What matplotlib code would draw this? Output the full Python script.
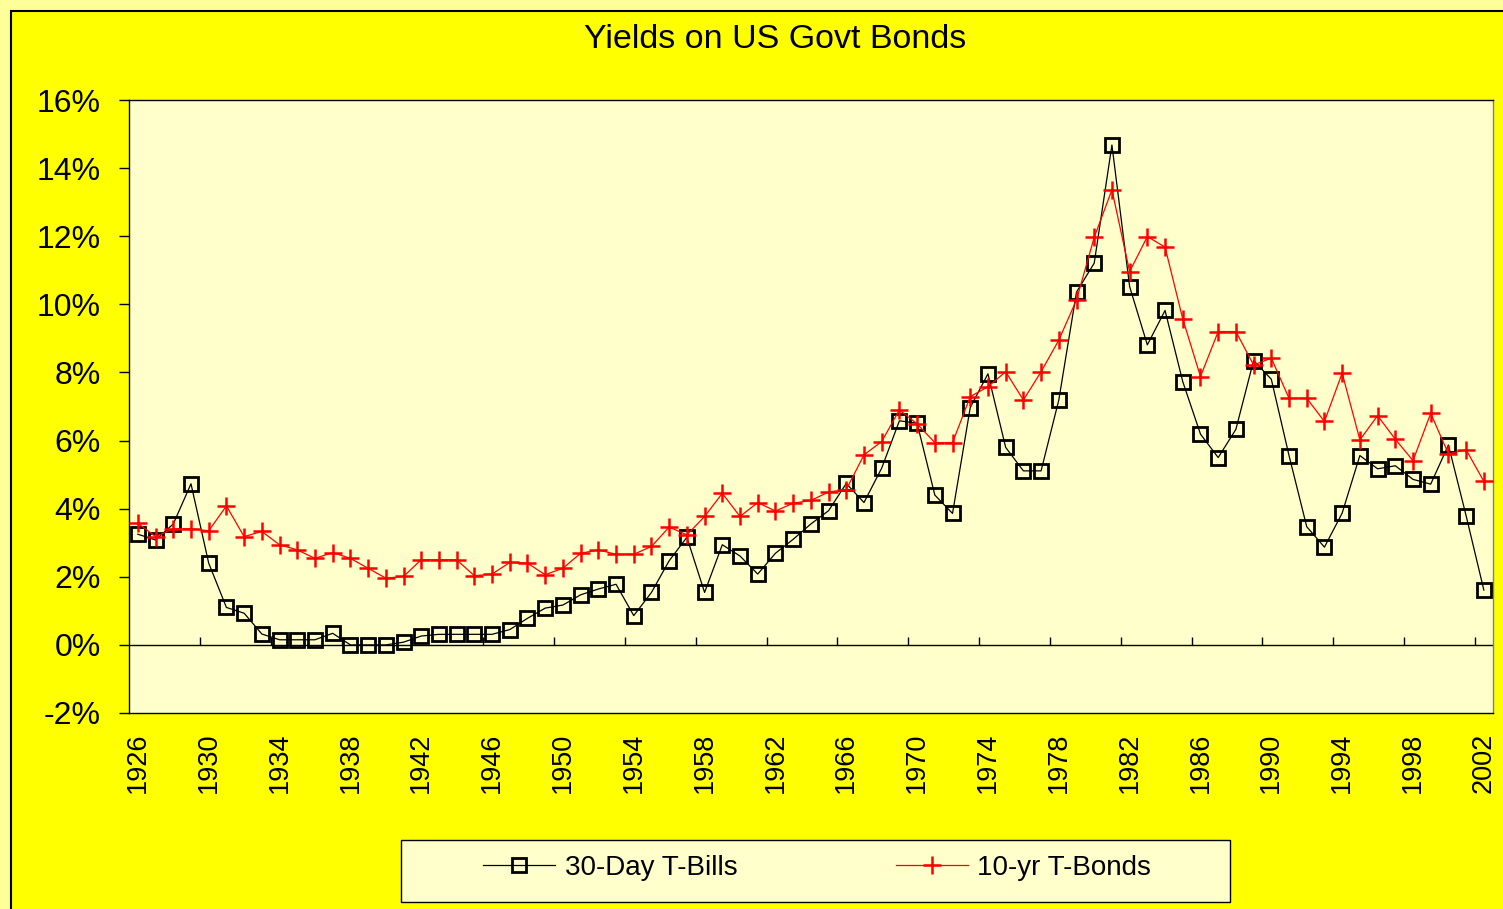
import matplotlib
matplotlib.use("Agg")
import matplotlib.pyplot as plt
from matplotlib.patches import Rectangle
from matplotlib.ticker import FuncFormatter

plt.rcParams['font.family'] = ['Liberation Sans', 'DejaVu Sans']

years = list(range(1926, 2003))

# 30-day T-bill yields (%)
tbills = [3.25, 3.08, 3.55, 4.73, 2.40, 1.10, 0.93, 0.32, 0.15, 0.15,
          0.15, 0.34, 0.00, 0.00, 0.00, 0.08, 0.26, 0.31, 0.31, 0.31,
          0.31, 0.45, 0.78, 1.08, 1.17, 1.47, 1.64, 1.78, 0.86, 1.54,
          2.47, 3.16, 1.54, 2.94, 2.61, 2.08, 2.69, 3.10, 3.55, 3.94,
          4.74, 4.18, 5.19, 6.58, 6.51, 4.40, 3.86, 6.97, 7.96, 5.80,
          5.11, 5.11, 7.19, 10.36, 11.21, 14.68, 10.52, 8.81, 9.82, 7.73,
          6.19, 5.50, 6.33, 8.35, 7.80, 5.56, 3.47, 2.87, 3.87, 5.56,
          5.17, 5.26, 4.86, 4.72, 5.87, 3.79, 1.61]

# 10-year T-bond yields (%)
tbonds = [3.57, 3.18, 3.41, 3.41, 3.35, 4.08, 3.18, 3.33, 2.94, 2.79,
          2.54, 2.71, 2.54, 2.25, 1.96, 2.01, 2.50, 2.50, 2.50, 2.03,
          2.08, 2.42, 2.40, 2.06, 2.25, 2.69, 2.79, 2.66, 2.66, 2.89,
          3.46, 3.23, 3.77, 4.45, 3.77, 4.18, 3.93, 4.16, 4.24, 4.49,
          4.56, 5.58, 5.97, 6.90, 6.49, 5.94, 5.94, 7.29, 7.58, 8.02,
          7.19, 8.02, 8.95, 10.13, 11.97, 13.36, 10.96, 11.99, 11.68, 9.57,
          7.88, 9.20, 9.20, 8.22, 8.42, 7.24, 7.24, 6.56, 7.98, 6.02,
          6.73, 6.04, 5.41, 6.80, 5.61, 5.73, 4.80]

label_years = years[::4]
y_ticks = list(range(-2, 17, 2))

W, H = 1503, 909
fig = plt.figure(figsize=(W / 100, H / 100), dpi=100, facecolor='#FFFF99')

# yellow chart area with black frame
fig.patches.append(Rectangle((11 / W, -0.1), 1.2, 1 - 11 / H + 0.1,
                             transform=fig.transFigure, facecolor='#FFFF00',
                             edgecolor='black', linewidth=1.5, zorder=-2))

ax = fig.add_axes([129 / W, 1 - 713 / H, (1492.7 - 129) / W, (713 - 100) / H])
ax.set_facecolor('#FFFFCC')

ax.plot(years, tbills, color='black', linewidth=0.9, marker='s', markersize=10.5,
        markerfacecolor='none', markeredgecolor='black', markeredgewidth=2.0,
        label='30-Day T-Bills', zorder=3)
ax.plot(years, tbonds, color='red', linewidth=0.9, marker='+', markersize=13,
        markeredgecolor='red', markeredgewidth=1.8, label='10-yr T-Bonds', zorder=4)

ax.axhline(0, color='black', linewidth=1, zorder=2)
ax.vlines([y - 0.5 for y in label_years[1:]], 0, 0.24, color='black', linewidth=1, zorder=2)

ax.set_xlim(1925.5, 2002.5)
ax.set_ylim(-2, 16)
ax.set_yticks(y_ticks)
ax.yaxis.set_major_formatter(FuncFormatter(lambda v, p: f'{v:.0f}%'))
ax.tick_params(axis='y', direction='out', length=7.2, width=1, labelsize=23, pad=13)
ax.set_xticks(label_years)
ax.set_xticklabels([str(y) for y in label_years], rotation=90)
ax.tick_params(axis='x', length=0, labelsize=19.5, pad=14)

for s in ['left', 'top', 'bottom']:
    ax.spines[s].set_color('black')
    ax.spines[s].set_linewidth(1)
ax.spines['right'].set_color('#808080')
ax.spines['right'].set_linewidth(1)

fig.text(775.5 / W, 1 - 40 / H, 'Yields on US Govt Bonds', ha='center', va='center',
         fontsize=24.5)

# legend box
fig.patches.append(Rectangle((401 / W, 1 - 902 / H), (1230 - 401) / W, (902 - 840) / H,
                             transform=fig.transFigure, facecolor='#FFFFCC',
                             edgecolor='black', linewidth=1, zorder=-1))
fig.legend(loc='center', bbox_to_anchor=(817 / W, 1 - 868 / H), ncol=2, frameon=False,
           fontsize=20, handlelength=2.6, handletextpad=0.35, columnspacing=5.7)

fig.savefig('out.png', dpi=100, facecolor=fig.get_facecolor())
